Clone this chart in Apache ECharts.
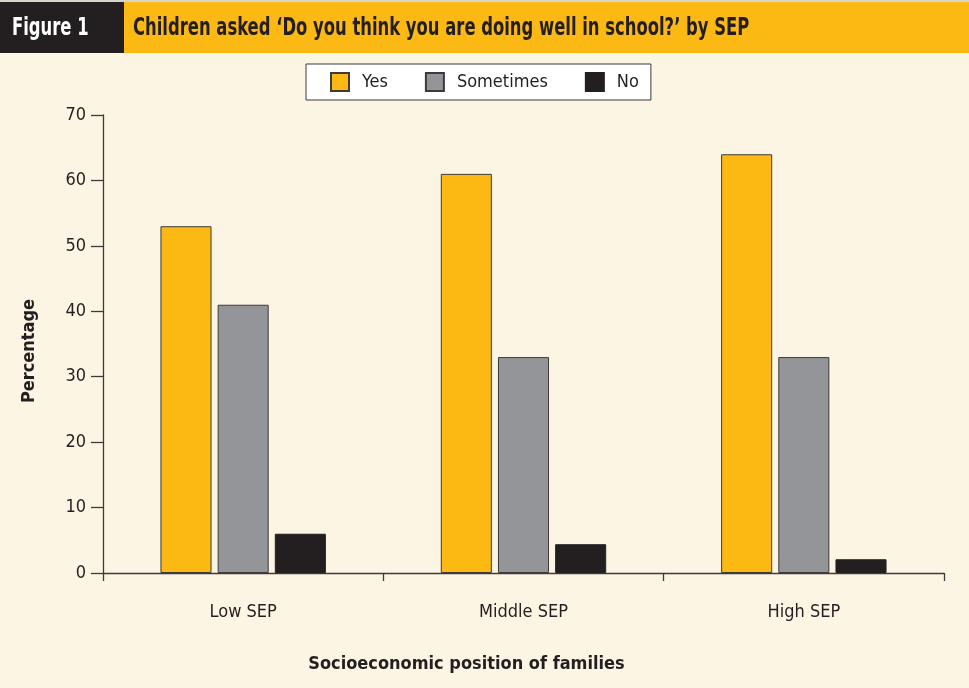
<!DOCTYPE html>
<html>
<head>
<meta charset="utf-8">
<script src="https://cdn.jsdelivr.net/npm/echarts@6/dist/echarts.min.js"></script>
<style>
  html, body { margin: 0; padding: 0; background: #FDF5E3; }
  #chart { width: 969px; height: 688px; }
</style>
</head>
<body>
<div id="chart"></div>
<script>
// Share of children answering each way, by socioeconomic position (SEP)
const categories = ['Low SEP', 'Middle SEP', 'High SEP'];
const yesValues = [53, 61, 64];
const sometimesValues = [41, 33, 33];
const noValues = [6, 4.4, 2.1];
const yTicks = [0, 10, 20, 30, 40, 50, 60, 70];

const FONT = '"DejaVu Sans Condensed", "Liberation Sans", sans-serif';
const YELLOW = '#FDB913';
const GREY = '#939598';
const BLACK = '#231F20';
const AXIS = '#3C3A3A';

const chart = echarts.init(document.getElementById('chart'));

chart.setOption({
  backgroundColor: '#FDF5E3',
  animation: false,
  textStyle: { fontFamily: FONT },
  graphic: [
    { type: 'rect', shape: { x: 0, y: 0, width: 969, height: 2 }, style: { fill: '#D9D4CC' } },
    { type: 'rect', shape: { x: 0, y: 2, width: 124, height: 51 }, style: { fill: BLACK } },
    { type: 'rect', shape: { x: 124, y: 2, width: 845, height: 51 }, style: { fill: YELLOW } },
    {
      type: 'text', x: 12, y: 29, scaleX: 0.76,
      style: { text: 'Figure 1', fill: '#FFFFFF', font: 'bold 24px ' + FONT, verticalAlign: 'middle' }
    },
    {
      type: 'text', x: 133, y: 29, scaleX: 0.76,
      style: { text: 'Children asked \u2018Do you think you are doing well in school?\u2019 by SEP', fill: BLACK, font: 'bold 24px ' + FONT, verticalAlign: 'middle' }
    }
  ],
  legend: {
    left: 306, top: 64,
    itemWidth: 18, itemHeight: 18, itemGap: 37,
    padding: [8, 12, 8, 24],
    backgroundColor: '#FFFFFF',
    borderColor: AXIS, borderWidth: 1,
    icon: 'rect',
    textStyle: { fontFamily: FONT, fontSize: 18, color: '#231F20', padding: [0, 0, 0, 8] },
    data: ['Yes', 'Sometimes', 'No']
  },
  grid: { left: 103, right: 25, top: 115, bottom: 115 },
  xAxis: {
    type: 'category',
    data: categories,
    name: 'Socioeconomic position of families',
    nameLocation: 'middle',
    nameGap: 82,
    nameTextStyle: { fontFamily: FONT, fontSize: 18, fontWeight: 'bold', color: BLACK, padding: [0, 114, 0, 0] },
    axisLine: { lineStyle: { color: AXIS, width: 1.3 } },
    axisTick: { show: true, length: 8, lineStyle: { color: AXIS, width: 1.3 } },
    axisLabel: { margin: 30, fontSize: 18, color: '#231F20', fontFamily: FONT }
  },
  yAxis: {
    type: 'value',
    min: yTicks[0], max: yTicks[yTicks.length - 1], interval: 10,
    name: 'Percentage',
    nameLocation: 'middle',
    nameGap: 65,
    nameTextStyle: { fontFamily: FONT, fontSize: 18, fontWeight: 'bold', color: BLACK, padding: [0, 14, 0, 0] },
    axisLine: { show: true, lineStyle: { color: AXIS, width: 1.3 } },
    axisTick: { show: true, length: 12, lineStyle: { color: AXIS, width: 1.3 } },
    axisLabel: { margin: 17, fontSize: 18, color: '#231F20', fontFamily: FONT },
    splitLine: { show: false }
  },
  series: [
    {
      name: 'Yes', type: 'bar', data: yesValues,
      barGap: '12%', barCategoryGap: '41%',
      itemStyle: { color: YELLOW, borderColor: AXIS, borderWidth: 1 }
    },
    {
      name: 'Sometimes', type: 'bar', data: sometimesValues,
      itemStyle: { color: GREY, borderColor: AXIS, borderWidth: 1 }
    },
    {
      name: 'No', type: 'bar', data: noValues,
      itemStyle: { color: BLACK, borderColor: BLACK, borderWidth: 1 }
    }
  ]
});
</script>
</body>
</html>
